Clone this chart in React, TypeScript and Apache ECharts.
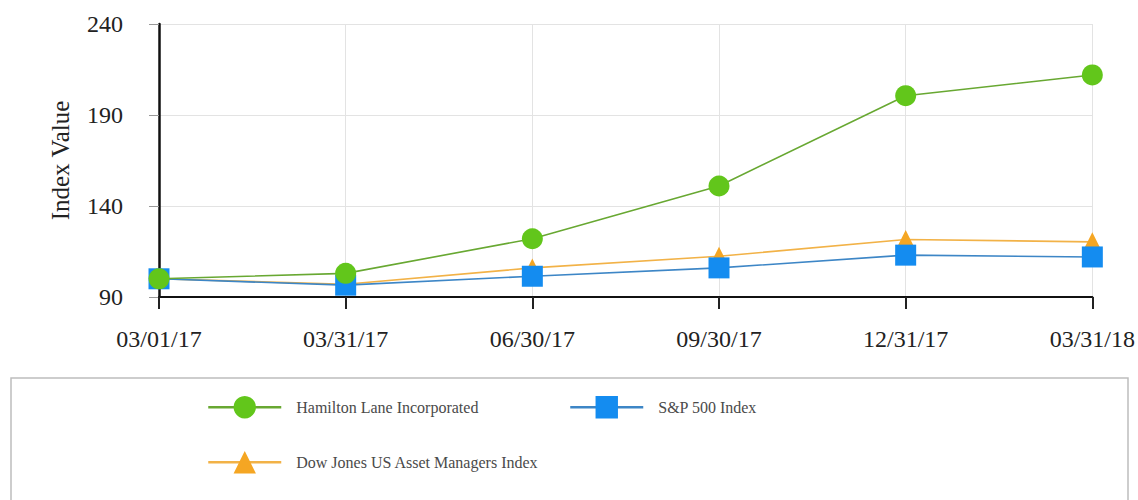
import React, { useEffect, useRef } from "react";
import * as echarts from "echarts";

const categories = ["03/01/17", "03/31/17", "06/30/17", "09/30/17", "12/31/17", "03/31/18"];
const hamilton = [100, 103, 122, 151, 200.6, 212];
const sp500 = [100, 96.5, 101.4, 106, 113, 112];
const dowJones = [100, 97, 106, 112.4, 121.6, 120.3];
const seriesNames = ["Hamilton Lane Incorporated", "S&P 500 Index", "Dow Jones US Asset Managers Index"];

const FONT = "Liberation Serif";

export default function App() {
  const ref = useRef<HTMLDivElement>(null);
  useEffect(() => {
    document.body.style.margin = "0";
    if (!ref.current) return;
    const chart = echarts.init(ref.current, null, { renderer: "svg" });
    const legendCommon = {
      orient: "horizontal",
      padding: 0,
      itemWidth: 73,
      itemHeight: 28,
      textStyle: { fontFamily: FONT, fontSize: 16, color: "#4a4a4a", padding: [0, 0, 0, 10] },
      lineStyle: { width: 2.5 },
      selectedMode: false,
    };
    chart.setOption({
      animation: false,
      textStyle: { fontFamily: FONT },
      grid: { left: 159, right: 45, top: 24, bottom: 203, containLabel: false },
      legend: [
        { ...legendCommon, data: [seriesNames[0]], left: 207, top: 396 },
        { ...legendCommon, data: [seriesNames[1]], left: 569, top: 396 },
        { ...legendCommon, data: [seriesNames[2]], left: 207, top: 451 },
      ],
      graphic: [
        {
          type: "rect",
          shape: { x: 11, y: 378, width: 1117, height: 140 },
          style: { fill: "none", stroke: "#bdbdbd", lineWidth: 1.5 },
          silent: true,
        },
      ],
      xAxis: {
        type: "category",
        data: categories,
        boundaryGap: false,
        axisLine: { show: true, lineStyle: { color: "#111", width: 2 } },
        axisTick: { show: true, length: 12, lineStyle: { color: "#222", width: 2 } },
        splitLine: { show: true, lineStyle: { color: "#e3e3e3", width: 1 } },
        axisLabel: { fontFamily: FONT, fontSize: 24, color: "#222", margin: 30 },
      },
      yAxis: {
        type: "value",
        min: 90,
        max: 240,
        interval: 50,
        name: "Index Value",
        nameLocation: "middle",
        nameGap: 86,
        nameTextStyle: { fontFamily: FONT, fontSize: 25, color: "#222" },
        axisLine: { show: true, lineStyle: { color: "#111", width: 2.5 } },
        axisTick: { show: true, length: 10, lineStyle: { color: "#999", width: 1 } },
        splitLine: { show: true, lineStyle: { color: "#e3e3e3", width: 1 } },
        axisLabel: { fontFamily: FONT, fontSize: 24, color: "#222", margin: 36 },
      },
      series: [
        {
          name: seriesNames[2],
          type: "line",
          data: dowJones,
          symbol: "triangle",
          symbolSize: 19,
          lineStyle: { color: "#f2b247", width: 1.6 },
          itemStyle: { color: "#f5a623" },
          z: 2,
        },
        {
          name: seriesNames[1],
          type: "line",
          data: sp500,
          symbol: "rect",
          symbolSize: 21,
          lineStyle: { color: "#3d86c6", width: 1.6 },
          itemStyle: { color: "#148cf0" },
          z: 3,
        },
        {
          name: seriesNames[0],
          type: "line",
          data: hamilton,
          symbol: "circle",
          symbolSize: 21,
          lineStyle: { color: "#68a832", width: 1.6 },
          itemStyle: { color: "#62c61b" },
          z: 4,
        },
      ],
    });
    return () => chart.dispose();
  }, []);
  return <div ref={ref} style={{ width: 1138, height: 500 }} />;
}
